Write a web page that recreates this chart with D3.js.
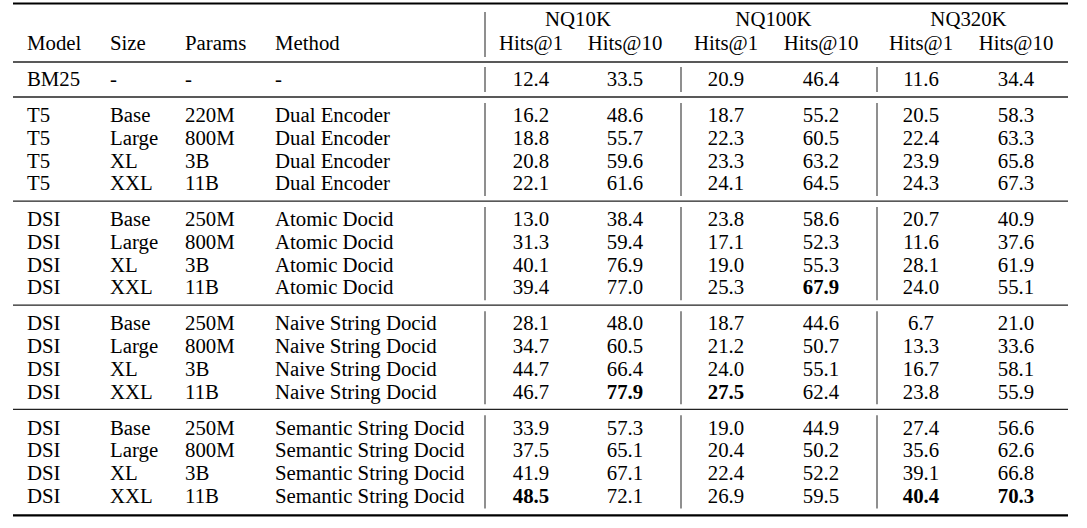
<!DOCTYPE html>
<html><head><meta charset="utf-8">
<script src="https://cdn.jsdelivr.net/npm/d3@7"></script>
</head>
<body style="margin:0">
<svg id="chart" width="1087" height="528" font-family="Liberation Serif"></svg>
<script>
// ---- data ----
const groupSizes = [1, 4, 4, 4, 4];
const models  = ["BM25","T5","T5","T5","T5","DSI","DSI","DSI","DSI","DSI","DSI","DSI","DSI","DSI","DSI","DSI","DSI"];
const sizes   = ["-","Base","Large","XL","XXL","Base","Large","XL","XXL","Base","Large","XL","XXL","Base","Large","XL","XXL"];
const params  = ["-","220M","800M","3B","11B","250M","800M","3B","11B","250M","800M","3B","11B","250M","800M","3B","11B"];
const methods = ["-","Dual Encoder","Dual Encoder","Dual Encoder","Dual Encoder",
  "Atomic Docid","Atomic Docid","Atomic Docid","Atomic Docid",
  "Naive String Docid","Naive String Docid","Naive String Docid","Naive String Docid",
  "Semantic String Docid","Semantic String Docid","Semantic String Docid","Semantic String Docid"];
const nq10kHits1   = ["12.4","16.2","18.8","20.8","22.1","13.0","31.3","40.1","39.4","28.1","34.7","44.7","46.7","33.9","37.5","41.9","48.5"];
const nq10kHits10  = ["33.5","48.6","55.7","59.6","61.6","38.4","59.4","76.9","77.0","48.0","60.5","66.4","77.9","57.3","65.1","67.1","72.1"];
const nq100kHits1  = ["20.9","18.7","22.3","23.3","24.1","23.8","17.1","19.0","25.3","18.7","21.2","24.0","27.5","19.0","20.4","22.4","26.9"];
const nq100kHits10 = ["46.4","55.2","60.5","63.2","64.5","58.6","52.3","55.3","67.9","44.6","50.7","55.1","62.4","44.9","50.2","52.2","59.5"];
const nq320kHits1  = ["11.6","20.5","22.4","23.9","24.3","20.7","11.6","28.1","24.0","6.7","13.3","16.7","23.8","27.4","35.6","39.1","40.4"];
const nq320kHits10 = ["34.4","58.3","63.3","65.8","67.3","40.9","37.6","61.9","55.1","21.0","33.6","58.1","55.9","56.6","62.6","66.8","70.3"];
// bold cells: [row, column key]
const boldCells = [[8,"nq100kHits10"],[12,"nq10kHits10"],[12,"nq100kHits1"],[16,"nq10kHits1"],[16,"nq320kHits1"],[16,"nq320kHits10"]];
const datasets = ["NQ10K","NQ100K","NQ320K"];
const metricLabels = ["Hits@1","Hits@10"];
const textHeaders = ["Model","Size","Params","Method"];

// ---- layout ----
const svg = d3.select("#chart");
const textCols = ["model","size","params","method"];
const xText = d3.scaleOrdinal().domain(textCols).range([27,110,185,275]);
const numCols = ["nq10kHits1","nq10kHits10","nq100kHits1","nq100kHits10","nq320kHits1","nq320kHits10"];
const xNum = d3.scaleOrdinal().domain(numCols).range([531,625,726,821,921,1016]);
const colData = {nq10kHits1,nq10kHits10,nq100kHits1,nq100kHits10,nq320kHits1,nq320kHits10};

const rowGroup = [];
groupSizes.forEach((n,g)=>{for(let i=0;i<n;i++) rowGroup.push(g);});
const yRow = d3.scaleLinear().domain([0,1]).range([79,79+22.7]);
const yGap = d3.scaleLinear().domain([0,1]).range([0,13.3]);
const y = i => yRow(i) + yGap(rowGroup[i]);

const left = 13, right = 1068;
const vLines = [485, 681, 877];

function txt(sel){
  return sel.attr("font-family","Liberation Serif").style("font-family","'Liberation Serif'").attr("font-size",20.8).attr("fill","#000");
}

// rules
svg.append("line").attr("x1",left).attr("x2",right).attr("y1",3.5).attr("y2",3.5).attr("stroke","#000").attr("stroke-width",2.2);
svg.append("line").attr("x1",left).attr("x2",right).attr("y1",62).attr("y2",62).attr("stroke","#222").attr("stroke-width",1.3);
let start = 0;
const groupRanges = [];
groupSizes.forEach((n)=>{ groupRanges.push([start,start+n-1]); start += n; });
groupRanges.forEach(([a,b],g)=>{
  const last = g===groupSizes.length-1;
  const yb = y(b) + (last ? 20 : 18);
  svg.append("line").attr("x1",left).attr("x2",right).attr("y1",yb).attr("y2",yb)
    .attr("stroke", last ? "#000" : "#222")
    .attr("stroke-width", last ? 2.2 : 1.3);
  vLines.forEach(vx=>{
    svg.append("line").attr("x1",vx).attr("x2",vx).attr("y1",y(a)-12).attr("y2",y(b)+13)
      .attr("stroke","#333").attr("stroke-width",1.1);
  });
});
svg.append("line").attr("x1",vLines[0]).attr("x2",vLines[0]).attr("y1",12).attr("y2",57).attr("stroke","#333").attr("stroke-width",1.1);

// header text
textHeaders.forEach((h,i)=>{
  txt(svg.append("text")).attr("x",xText(textCols[i])).attr("y",43).attr("dy","0.35em").text(h);
});
datasets.forEach((d,i)=>{
  const cx = (xNum(numCols[2*i]) + xNum(numCols[2*i+1]))/2;
  txt(svg.append("text")).attr("x",cx).attr("y",19).attr("dy","0.35em").attr("text-anchor","middle").text(d);
  metricLabels.forEach((m,j)=>{
    txt(svg.append("text")).attr("x",xNum(numCols[2*i+j])).attr("y",43).attr("dy","0.35em").attr("text-anchor","middle").text(m);
  });
});

// body text
const textData = {model:models,size:sizes,params:params,method:methods};
textCols.forEach(c=>{
  txt(svg.append("g").selectAll("text").data(textData[c]).join("text"))
    .attr("x",xText(c)).attr("y",(d,i)=>y(i)).attr("dy","0.35em").text(d=>d);
});
const isBold = (i,c) => boldCells.some(([r,k])=>r===i && k===c);
numCols.forEach(c=>{
  txt(svg.append("g").selectAll("text").data(colData[c]).join("text"))
    .attr("x",xNum(c)).attr("y",(d,i)=>y(i)).attr("dy","0.35em").attr("text-anchor","middle")
    .attr("font-weight",(d,i)=>isBold(i,c)?"bold":null)
    .text(d=>d);
});
</script></body></html>
